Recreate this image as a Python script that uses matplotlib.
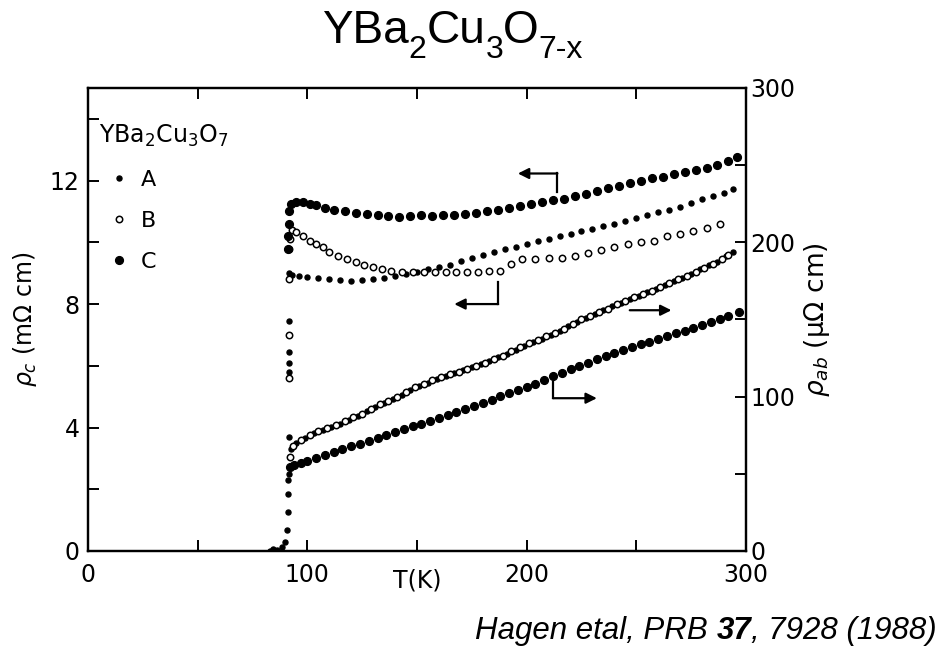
import matplotlib
matplotlib.use('Agg')
import matplotlib.pyplot as plt
from matplotlib.ticker import MultipleLocator

plt.rcParams['font.family'] = ['DejaVu Sans']
plt.rcParams['mathtext.fontset'] = 'custom'
plt.rcParams['mathtext.rm'] = 'Liberation Sans'
plt.rcParams['mathtext.sf'] = 'DejaVu Sans'
plt.rcParams['mathtext.it'] = 'DejaVu Sans:italic'
plt.rcParams['mathtext.bf'] = 'DejaVu Sans:bold'

# rho_c (mOhm cm), left axis : (T, value)
rc_A = [(91.5, 5.8), (91.5, 6.1), (91.5, 6.45), (91.5, 7.45), (91.8, 9.0), (93, 8.95), (96, 8.9),
        (100, 8.88), (105, 8.85), (110, 8.8), (115, 8.78), (120, 8.76), (125, 8.78), (130, 8.8),
        (135, 8.84), (140, 8.9), (145, 8.97), (150, 9.05), (155, 9.12), (160, 9.2), (165, 9.28),
        (170, 9.38), (175, 9.48), (180, 9.58), (185, 9.68), (190, 9.78), (195, 9.86), (200, 9.95),
        (205, 10.03), (210, 10.12), (215, 10.2), (220, 10.28), (225, 10.36), (230, 10.44),
        (235, 10.52), (240, 10.6), (245, 10.7), (250, 10.8), (255, 10.88), (260, 10.98),
        (265, 11.06), (270, 11.16), (275, 11.28), (280, 11.4), (285, 11.5), (290, 11.6), (294, 11.72)]
rc_B = [(91.5, 5.6), (91.5, 7.0), (91.6, 8.8), (91.6, 9.8), (92, 10.1), (93, 10.4), (95, 10.35),
        (98, 10.2), (101, 10.05), (104, 9.95), (107, 9.85), (110, 9.7), (114, 9.55), (118, 9.45),
        (122, 9.35), (126, 9.28), (130, 9.2), (134, 9.12), (138, 9.07), (143, 9.05), (148, 9.04),
        (153, 9.03), (158, 9.03), (163, 9.04), (168, 9.04), (173, 9.05), (178, 9.05), (183, 9.06),
        (188, 9.07), (193, 9.3), (198, 9.45), (204, 9.47), (210, 9.48), (216, 9.5), (222, 9.57),
        (228, 9.65), (234, 9.75), (240, 9.85), (246, 9.93), (252, 10.0), (258, 10.05), (264, 10.2),
        (270, 10.28), (276, 10.38), (282, 10.47), (288, 10.6)]
rc_C = [(91.3, 9.8), (91.4, 10.2), (91.5, 10.6), (91.6, 11.0), (92.5, 11.25), (95, 11.3), (98, 11.3),
        (101, 11.25), (104, 11.2), (108, 11.12), (112, 11.05), (117, 11.0), (122, 10.95), (127, 10.92),
        (132, 10.88), (137, 10.85), (142, 10.83), (147, 10.85), (152, 10.88), (157, 10.85),
        (162, 10.87), (167, 10.9), (172, 10.92), (177, 10.96), (182, 11.0), (187, 11.06), (192, 11.12),
        (197, 11.18), (202, 11.25), (207, 11.3), (212, 11.36), (217, 11.42), (222, 11.5), (227, 11.58),
        (232, 11.66), (237, 11.75), (242, 11.83), (247, 11.92), (252, 12.0), (257, 12.07), (262, 12.13),
        (267, 12.2), (272, 12.27), (277, 12.33), (282, 12.42), (287, 12.52), (292, 12.62), (296, 12.78)]

# rho_ab (uOhm cm), right axis
ab_A = [(91.5, 74), (92.5, 66), (95, 70), (99, 73.5), (103, 76.5), (107, 78.5), (111, 80.5), (115, 82.5),
        (119, 85), (123, 87.5), (127, 90.5), (131, 93.5), (135, 96), (139, 98.5), (143, 101), (147, 104),
        (151, 107), (155, 109), (159, 111.5), (163, 113.5), (167, 115.5), (171, 117), (175, 119),
        (179, 121), (183, 123), (187, 125.5), (191, 127.5), (195, 130.5), (199, 133), (203, 135.5),
        (207, 137.5), (211, 140), (215, 142.5), (219, 145.5), (223, 148.5), (227, 151), (231, 153.5),
        (235, 156), (239, 158.5), (243, 161), (247, 163.5), (251, 165.5), (255, 167.5), (259, 169.5),
        (263, 172.5), (267, 175), (271, 177), (275, 179.5), (279, 182.5), (283, 185), (287, 187.5),
        (291, 191), (294, 194)]
ab_B = [(92, 61), (93.5, 68), (97, 72), (101, 75), (105, 77.5), (109, 79.5), (113, 81.5), (117, 84),
        (121, 86.5), (125, 89), (129, 92), (133, 95), (137, 97.5), (141, 100), (145, 103), (149, 106),
        (153, 108), (157, 110.5), (161, 112.5), (165, 114.5), (169, 116), (173, 118), (177, 120),
        (181, 122), (185, 124.5), (189, 126.5), (193, 129.5), (197, 132), (201, 134.5), (205, 136.5),
        (209, 139), (213, 141.5), (217, 144), (221, 147), (225, 150), (229, 152), (233, 155),
        (237, 157), (241, 160), (245, 162), (249, 164.5), (253, 166.5), (257, 168.5), (261, 171),
        (265, 173.5), (269, 176), (273, 178), (277, 181), (281, 183.5), (285, 186), (289, 189), (292, 191.5)]
ab_C = [(92, 54.5), (94, 55.5), (97, 57), (100, 58.5), (104, 60.5), (108, 62), (112, 64), (116, 66),
        (120, 68), (124, 69.5), (128, 71.5), (132, 73.5), (136, 75), (140, 77), (144, 79), (148, 81),
        (152, 82.5), (156, 84.5), (160, 86), (164, 88), (168, 90), (172, 92), (176, 94), (180, 96),
        (184, 98), (188, 100.5), (192, 102.5), (196, 104.5), (200, 106.5), (204, 108.5), (208, 111),
        (212, 113.5), (216, 115.5), (220, 118), (224, 120), (228, 122), (232, 124.5), (236, 126.5),
        (240, 128), (244, 130), (248, 132), (252, 134), (256, 135.5), (260, 137.5), (264, 139),
        (268, 141), (272, 142.5), (276, 144.5), (280, 146.5), (284, 148.5), (288, 150.5),
        (292, 152.5), (297, 155)]
# superconducting transition of rho_ab
ab_trans = [(83, 0), (84.5, 1), (86, 0.5), (88.5, 2.5), (90, 6), (90.8, 13.5), (91, 25),
            (91.2, 37), (91.4, 46), (91.6, 50)]


def xy(pairs):
    return [p[0] for p in pairs], [p[1] for p in pairs]


sty_A = dict(ls='none', marker='o', ms=3.6, color='k')
sty_B = dict(ls='none', marker='o', ms=4.6, mfc='white', mec='k', mew=1.1)
sty_C = dict(ls='none', marker='o', ms=5.6, color='k')

fig = plt.figure(figsize=(9.49, 6.48), dpi=100)
ax = fig.add_axes([0.0927, 0.1497, 0.6934, 0.7145])
ax2 = ax.twinx()

hA, = ax.plot(*xy(rc_A), label='A', **sty_A)
hB, = ax.plot(*xy(rc_B), label='B', **sty_B)
hC, = ax.plot(*xy(rc_C), label='C', **sty_C)
ax2.plot(*xy(ab_A), **sty_A)
ax2.plot(*xy(ab_B), **sty_B)
ax2.plot(*xy(ab_C), **sty_C)
ax2.plot(*xy(ab_trans), **sty_A)

ax.set_xlim(0, 300)
ax.set_ylim(0, 15)
ax2.set_ylim(0, 300)

ax.xaxis.set_major_locator(MultipleLocator(100))
ax.xaxis.set_minor_locator(MultipleLocator(50))
ax.yaxis.set_major_locator(MultipleLocator(4))
ax.yaxis.set_minor_locator(MultipleLocator(2))
ax2.yaxis.set_major_locator(MultipleLocator(100))
ax2.yaxis.set_minor_locator(MultipleLocator(50))

ax.tick_params(which='both', direction='in', top=True, right=False, length=8, width=1.4)
ax.tick_params(which='major', labelsize=17, pad=6)
ax.tick_params(axis='x', which='major', pad=9)
ax2.tick_params(which='both', direction='in', length=8, width=1.4)
ax2.tick_params(which='major', labelsize=17, pad=3)
for a in (ax, ax2):
    for s in a.spines.values():
        s.set_linewidth(1.6)

ax.set_xlabel('T(K)', fontsize=17, labelpad=-14)
ax.set_ylabel(r'$\rho_c$ (mΩ cm)', fontsize=17, labelpad=8)
ax2.set_ylabel(r'$\rho_{ab}$ (μΩ cm)', fontsize=19, labelpad=5)

# guide arrows showing which axis each curve belongs to
aprops = dict(arrowstyle='-|>', color='k', lw=1.6, mutation_scale=16, shrinkA=0, shrinkB=0)
ax.plot([214, 214], [11.64, 12.23], 'k-', lw=1.6)
ax.annotate('', xy=(196, 12.23), xytext=(214, 12.23), arrowprops=aprops)
ax.plot([187, 187], [8.72, 8.0], 'k-', lw=1.6)
ax.annotate('', xy=(167, 8.0), xytext=(187, 8.0), arrowprops=aprops)
ax2.annotate('', xy=(266, 156), xytext=(247, 156), arrowprops=aprops)
ax2.plot([212, 212], [109.5, 99], 'k-', lw=1.6)
ax2.annotate('', xy=(232, 99), xytext=(212, 99), arrowprops=aprops)

leg = ax.legend(handles=[hA, hB, hC], title=r'$\mathsf{YBa_2Cu_3O_7}$', loc='upper left',
                bbox_to_anchor=(0.016, 0.925), frameon=False, fontsize=16, title_fontsize=17,
                handlelength=1.8, handletextpad=0.1, labelspacing=0.95, borderpad=0,
                borderaxespad=0, alignment='left')

fig.canvas.draw()
r = fig.canvas.get_renderer()
W, H = fig.bbox.width, fig.bbox.height


def text_run(x_px, base_px, parts, **kw):
    # parts: (text, fontsize, weight, drop in px)
    for txt, size, w, drop in parts:
        t = fig.text(x_px / W, (base_px - drop) / H, txt, fontsize=size, weight=w,
                     va='baseline', ha='left', **kw)
        x_px = t.get_window_extent(renderer=r).x1


# title with lowered subscripts
text_run(322, H - 43, [('YBa', 33, 'normal', 0), ('2', 23, 'normal', 15),
                       ('Cu', 33, 'normal', 0), ('3', 23, 'normal', 15),
                       ('O', 33, 'normal', 0), ('7-x', 23, 'normal', 15)],
         family='Liberation Sans')

# citation, with the bold volume number
text_run(475, H - 639, [('Hagen etal, PRB ', 22.5, 'normal', 0), ('37', 22.5, 'bold', 0),
                        (', 7928 (1988)', 22.5, 'normal', 0)],
         family='Liberation Sans', style='italic')

fig.savefig('out.png', dpi=100)
